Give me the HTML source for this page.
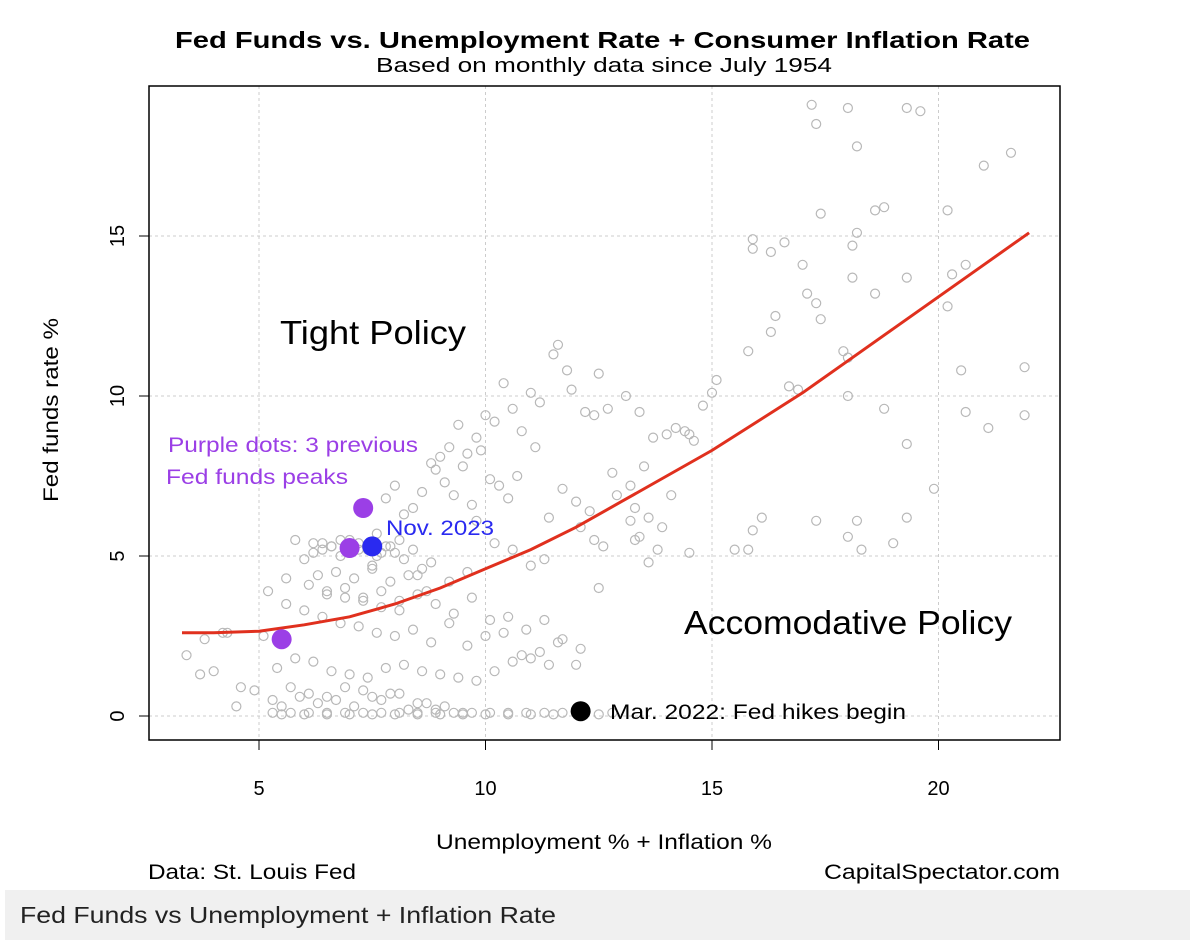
<!DOCTYPE html>
<html><head><meta charset="utf-8"><style>
body{margin:0;background:#fff;width:1190px;height:946px;overflow:hidden;font-family:"Liberation Sans",sans-serif}
#cap{position:absolute;left:5px;top:890px;width:1185px;height:50px;background:#f0f0f0}
</style></head><body>
<svg id="chart" width="1190" height="890" style="position:absolute;left:0;top:0" font-family="Liberation Sans, sans-serif"></svg>
<div id="cap"><svg width="1185" height="50" font-family="Liberation Sans, sans-serif"><text x="15" y="33" font-size="23" fill="#222" textLength="536" lengthAdjust="spacingAndGlyphs">Fed Funds vs Unemployment + Inflation Rate</text></svg></div>
<script>
const xTicks=[5,10,15,20];
const yTicks=[0,5,10,15];
const ptsX=[17.2,17.3,18,19.3,19.6,18.2,21,21.6,17.4,18.6,18.8,20.2,15.9,15.9,16.3,16.6,17,18.1,18.2,18.1,17.1,17.3,18.6,19.3,20.3,20.6,20.2,16.4,16.3,17.4,15.8,17.9,18,20.5,21.9,16.9,18,16.7,15.1,15,14.8,14.4,14.5,18.8,19.3,20.6,21.1,21.9,19.9,17.3,18.2,19.3,18,18.3,19,16.1,15.9,15.5,15.8,
12.2,11.8,11.6,11.9,12.4,12.5,12.7,13.1,13.4,13.7,14,14.2,14.6,13.5,13.2,12.9,12.8,13.3,13.6,13.9,14.1,14.5,13.8,13.6,13.4,13.2,12.6,12.4,12.1,11.5,11.2,11,10.8,10.6,10.4,10.2,10,9.8,9.6,9.4,9.2,9,8.8,9.1,9.5,9.9,10.3,10.7,11.1,11.4,11.7,12,12.3,10.5,10.1,9.7,9.3,8.9,8.6,8.4,8.2,8,7.8,7.6,
9.8,10.2,10.6,11,11.3,9.6,9.2,8.8,8.5,8.1,7.9,7.7,7.5,7.2,7,6.8,6.6,6.4,6.2,6,5.8,5.6,6.1,6.5,6.9,7.3,7.7,8.1,8.5,8.9,9.3,9.7,10.1,10.5,10.9,11.3,11.7,12.1,12.5,
5.2,5.6,6,6.4,6.8,7.2,7.6,8,8.4,8.8,9.2,9.6,10,10.4,10.8,11.2,11.6,12,5.4,5.8,6.2,6.6,7,7.4,7.8,8.2,8.6,9,9.4,9.8,10.2,10.6,11,11.4,
3.4,3.7,4,4.3,4.6,4.9,5.1,3.8,4.2,4.5,5.3,5.7,6.1,6.5,6.9,7.3,7.7,8.1,8.5,8.9,5.5,5.9,6.3,6.7,7.1,7.5,7.9,8.3,8.7,9.1,9.5,
5.3,5.7,6.1,6.5,6.9,7.3,7.7,8.1,8.5,8.9,9.3,9.7,10.1,10.5,10.9,11.3,11.7,12.1,12.5,5.5,6,6.5,7,7.5,8,8.5,9,9.5,10,10.5,11,11.5,12,12.8,13.3,
6.2,6.4,6.6,6.8,7,7.2,7.4,7.6,7.8,8,8.2,8.4,8.6,6.3,6.7,7.1,7.5,7.9,8.3,8.7,6.5,6.9,7.3,7.7,8.1,8.5];
const ptsY=[19.1,18.5,19,19,18.9,17.8,17.2,17.6,15.7,15.8,15.9,15.8,14.9,14.6,14.5,14.8,14.1,14.7,15.1,13.7,13.2,12.9,13.2,13.7,13.8,14.1,12.8,12.5,12,12.4,11.4,11.4,11.2,10.8,10.9,10.2,10,10.3,10.5,10.1,9.7,8.9,8.8,9.6,8.5,9.5,9,9.4,7.1,6.1,6.1,6.2,5.6,5.2,5.4,6.2,5.8,5.2,5.2,
9.5,10.8,11.6,10.2,9.4,10.7,9.6,10,9.5,8.7,8.8,9,8.6,7.8,7.2,6.9,7.6,6.5,6.2,5.9,6.9,5.1,5.2,4.8,5.6,6.1,5.3,5.5,5.9,11.3,9.8,10.1,8.9,9.6,10.4,9.2,9.4,8.7,8.2,9.1,8.4,8.1,7.9,7.3,7.8,8.3,7.2,7.5,8.4,6.2,7.1,6.7,6.4,6.8,7.4,6.6,6.9,7.7,7,6.5,6.3,7.2,6.8,
5.7,6.1,5.4,5.2,4.7,4.9,4.5,4.2,4.8,4.4,5.5,5.3,5.1,4.6,5.2,5.5,5,5.3,5.4,5.1,4.9,5.5,4.3,4.1,3.9,3.7,3.6,3.4,3.3,3.8,3.5,3.2,3.7,3,3.1,2.7,3,2.4,2.1,
4,3.9,3.5,3.3,3.1,2.9,2.8,2.6,2.5,2.7,2.3,2.9,2.2,2.5,2.6,1.9,2,2.3,1.6,1.5,1.8,1.7,1.4,1.3,1.2,1.5,1.6,1.4,1.3,1.2,1.1,1.4,1.7,1.8,
1.6,1.9,1.3,1.4,2.6,0.9,0.8,2.5,2.4,2.6,0.3,0.5,0.9,0.7,0.6,0.9,0.8,0.5,0.7,0.4,0.2,0.3,0.6,0.4,0.5,0.3,0.6,0.7,0.2,0.4,0.3,
0.1,0.1,0.1,0.1,0.1,0.1,0.1,0.1,0.1,0.1,0.1,0.1,0.1,0.1,0.1,0.1,0.1,0.1,0.1,0.05,0.05,0.05,0.05,0.05,0.05,0.05,0.05,0.05,0.05,0.05,0.05,0.05,0.05,0.1,0.1,
5.5,5.4,5.2,5.3,5.5,5.1,5.4,5.2,5.0,5.3,5.1,4.9,5.2,4.6,4.4,4.5,4.3,4.7,4.2,4.4,3.9,3.8,4.0,3.7,3.9,3.6];
const fitX=[3.3,4,5,6,7,8,9,10,11,12,13,14,15,16,17,18,19,20,21,22];
const fitY=[2.6,2.6,2.65,2.85,3.1,3.5,4,4.6,5.2,5.9,6.7,7.5,8.3,9.2,10.1,11.1,12.1,13.1,14.1,15.1];
const hiX=[7.3,7.0,5.5,7.5,12.1];
const hiY=[6.5,5.25,2.4,5.3,0.15];
const hiC=['#9b3fe6','#9b3fe6','#9b3fe6','#2a2af0','#000'];
const hiNames=['peak-dot-1','peak-dot-2','peak-dot-3','nov-2023-dot','mar-2022-dot'];

const X=v=>259+(v-5)*45.3, Y=v=>716-v*32;
const svg=document.getElementById('chart');
const NS='http://www.w3.org/2000/svg';
function mk(t,a,txt){const e=document.createElementNS(NS,t);for(const k in a)e.setAttribute(k,a[k]);if(txt!=null)e.textContent=txt;svg.appendChild(e);return e;}
xTicks.forEach(v=>{
 const g=mk('line',{x1:X(v),x2:X(v),y1:86,y2:740,stroke:'#ccc','stroke-dasharray':'3,3'});
 
 const t=mk('line',{x1:X(v),x2:X(v),y1:740,y2:750,stroke:'#000'});
 
 const l=mk('text',{x:X(v),y:795,'font-size':20,'text-anchor':'middle'},v);
 
});
yTicks.forEach(v=>{
 const g=mk('line',{x1:149,x2:1060,y1:Y(v),y2:Y(v),stroke:'#ccc','stroke-dasharray':'3,3'});
 
 const t=mk('line',{x1:139,x2:149,y1:Y(v),y2:Y(v),stroke:'#000'});
 
 const l=mk('text',{x:124,y:Y(v),'font-size':20,'text-anchor':'middle',transform:`rotate(-90 124 ${Y(v)})`},v);
 
});
const n=Math.min(ptsX.length,ptsY.length);
for(let i=0;i<n;i++){
 const c=mk('circle',{cx:X(ptsX[i]),cy:Y(ptsY[i]),r:4.5,fill:'none',stroke:'#b8b8b8','stroke-width':1.2});
 
}
const fit=mk('polyline',{points:fitX.map((x,i)=>X(x)+','+Y(fitY[i])).join(' '),fill:'none',stroke:'#e0301e','stroke-width':3});

hiX.forEach((x,i)=>{
 const c=mk('circle',{cx:X(x),cy:Y(hiY[i]),r:10,fill:hiC[i]});
 
});
const box=mk('rect',{x:149,y:86,width:911,height:654,fill:'none',stroke:'#000','stroke-width':1.5});

const texts=[
 ['chart-title',175,48,23,'start','#000','Fed Funds vs. Unemployment Rate + Consumer Inflation Rate','bold',855],
 ['chart-subtitle',376,72,20,'start','#000','Based on monthly data since July 1954','normal',456],
 ['tight-policy-label',280,344,33,'start','#000','Tight Policy','normal',186],
 ['accomodative-policy-label',684,634,33,'start','#000','Accomodative Policy','normal',328],
 ['purple-note-line1',168,452,21,'start','#9b3fe6','Purple dots: 3 previous','normal',250],
 ['purple-note-line2',166,484,21,'start','#9b3fe6','Fed funds peaks','normal',182],
 ['nov-2023-label',386,535,21,'start','#2a2af0','Nov. 2023','normal',108],
 ['mar-2022-label',610,719,21,'start','#000','Mar. 2022: Fed hikes begin','normal',296],
 ['x-axis-title',436,849,21,'start','#000','Unemployment % + Inflation %','normal',336],
 ['source-label',148,879,21,'start','#000','Data: St. Louis Fed','normal',208],
 ['site-label',824,879,21,'start','#000','CapitalSpectator.com','normal',236]];
texts.forEach(a=>{
 const t=mk('text',{x:a[1],y:a[2],'font-size':a[3],'text-anchor':a[4],fill:a[5],'font-weight':a[7],textLength:a[8],lengthAdjust:'spacingAndGlyphs'},a[6]);
 
});
const yl=mk('text',{x:58,y:502,'font-size':21,'text-anchor':'start',transform:'rotate(-90 58 502)',textLength:184,lengthAdjust:'spacingAndGlyphs'},'Fed funds rate %');

</script>
</body></html>
